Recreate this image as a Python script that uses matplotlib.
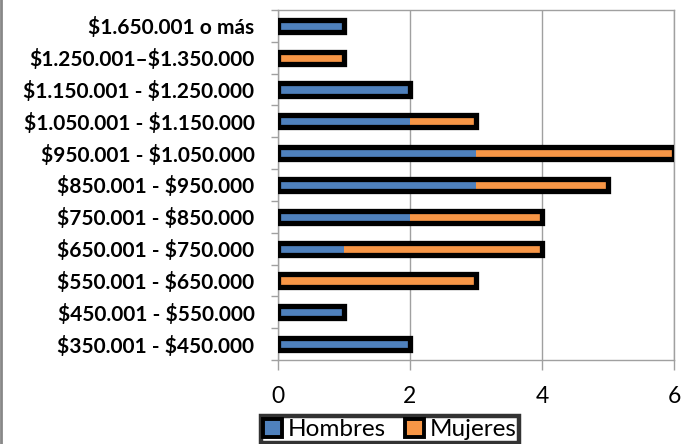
import matplotlib
matplotlib.use("Agg")
import matplotlib.pyplot as plt
import numpy as np

categories = [
    "$350.001 - $450.000",
    "$450.001 - $550.000",
    "$550.001 - $650.000",
    "$650.001 - $750.000",
    "$750.001 - $850.000",
    "$850.001 - $950.000",
    "$950.001 - $1.050.000",
    "$1.050.001 - $1.150.000",
    "$1.150.001 - $1.250.000",
    "$1.250.001–$1.350.000",
    "$1.650.001 o más",
]
hombres = [2, 1, 0, 1, 2, 3, 3, 2, 2, 0, 1]
mujeres = [0, 0, 3, 3, 2, 2, 3, 1, 0, 1, 0]
xticks = [0, 2, 4, 6]

plt.rcParams["font.family"] = ["Lato", "DejaVu Sans"]
plt.rcParams["text.parse_math"] = False

blue = "#4F81BD"
orange = "#F79646"

fig = plt.figure(figsize=(6.81, 4.44), dpi=100)
ax = fig.add_axes([278/681, (444-360)/444, (674-278)/681, (360-10)/444])

y = np.arange(len(categories))
h = 0.38
hom = np.array(hombres)
muj = np.array(mujeres)
ax.barh(y, hom, height=h, color=blue, edgecolor="none", zorder=2)
ax.barh(y, muj, left=hom, height=h, color=orange, edgecolor="none", zorder=2)
ax.barh(y, hom + muj, height=h, facecolor="none", edgecolor="black", linewidth=3.8, zorder=3)

ax.set_xlim(0, 6)
ax.set_ylim(-0.5, len(categories) - 0.5)
ax.set_xticks(xticks)
ax.set_xticklabels([str(v) for v in xticks], fontsize=16.5)
ax.set_yticks(y)
ax.set_yticklabels(categories, fontsize=15, fontweight="bold")
ax.set_yticks(np.arange(len(categories) + 1) - 0.5, minor=True)
ax.tick_params(axis="y", which="major", length=0, pad=17)
ax.tick_params(axis="y", which="minor", length=5, color="#a0a0a0", width=1)
ax.tick_params(axis="x", which="major", length=7, color="#a0a0a0", width=1, pad=12)
ax.grid(axis="x", color="#a0a0a0", linewidth=1, zorder=0)
for s in ax.spines.values():
    s.set_color("#a0a0a0")
    s.set_linewidth(1)

handles = [
    plt.Rectangle((0, 0), 1, 1, facecolor=blue, edgecolor="black", linewidth=2.8),
    plt.Rectangle((0, 0), 1, 1, facecolor=orange, edgecolor="black", linewidth=2.8),
]
leg = fig.legend(handles, ["Hombres", "Mujeres"], loc="upper center",
                 bbox_to_anchor=(390/681, (444-416)/444), ncol=2, frameon=True,
                 fancybox=False, fontsize=17.5, handlelength=0.75, handleheight=0.75,
                 handletextpad=0.25, columnspacing=0.8, borderpad=0.12,
                 borderaxespad=0)
leg.get_frame().set_edgecolor("black")
leg.get_frame().set_linewidth(3.2)

fig.add_artist(plt.Line2D([1/681, 1/681], [0, 1], color="#888888", linewidth=2, transform=fig.transFigure))

fig.savefig("out.png", dpi=100)
